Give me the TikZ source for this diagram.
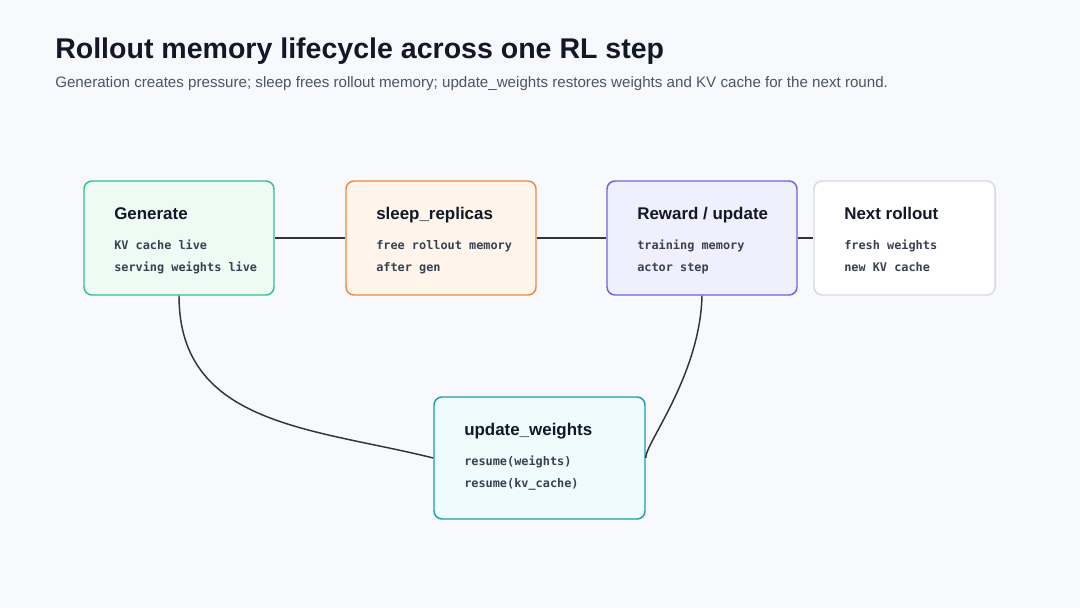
\documentclass[tikz,border=0pt]{standalone}
\usepackage{fontspec}
\setmainfont{Liberation Sans}
\newfontfamily\monofont{DejaVu Sans Mono}
\usetikzlibrary{calc}
\definecolor{bgc}{HTML}{F8F9FC}
\definecolor{titlec}{HTML}{111827}
\definecolor{subc}{HTML}{4B5563}
\definecolor{monoc}{HTML}{374151}
\definecolor{linec}{HTML}{333333}
\definecolor{genD}{HTML}{34C08E}\definecolor{genF}{HTML}{EEFBF5}
\definecolor{slpD}{HTML}{EE8A3E}\definecolor{slpF}{HTML}{FFF5EA}
\definecolor{rewD}{HTML}{6B63E6}\definecolor{rewF}{HTML}{F0F0FD}
\definecolor{nxtD}{HTML}{D9DADF}\definecolor{nxtF}{HTML}{FFFFFF}
\definecolor{updD}{HTML}{1F9AB6}\definecolor{updF}{HTML}{EEFCFD}
\tikzset{
  card/.style n args={4}{draw=#1, fill=#2, line width=1.1pt, rounded corners=6pt,
     minimum width=#3*0.75pt, minimum height=#4*0.75pt, inner sep=0pt},
  cardtitle/.style={anchor=base west, inner sep=0pt, font=\fontsize{12.7}{15}\selectfont\bfseries, text=titlec},
  cardline/.style={anchor=base west, inner sep=0pt, font=\monofont\fontsize{8.9}{11}\selectfont\bfseries, text=monoc},
  link/.style={draw=linec, line width=1.1pt},
}
\begin{document}
\begin{tikzpicture}[x=0.75pt,y=-0.75pt]
\fill[bgc] (0,0) rectangle (1080,608);
\useasboundingbox (0,0) rectangle (1080,608);
\node[anchor=base west, inner sep=0pt, font=\fontsize{21.4}{24}\selectfont\bfseries, text=titlec] (title) at (55,58) {Rollout memory lifecycle across one RL step};
\node[anchor=base west, inner sep=0pt, font=\fontsize{11.35}{13}\selectfont, text=subc] (sub) at (55,87) {Generation creates pressure; sleep frees rollout memory; update\_weights restores weights and KV cache for the next round.};

\node[card={genD}{genF}{190}{114}] (gen) at (179,238) {};
\node[card={slpD}{slpF}{190}{114}] (slp) at (441,238) {};
\node[card={rewD}{rewF}{190}{114}] (rew) at (702,238) {};
\node[card={nxtD}{nxtF}{181}{114}] (nxt) at (904.5,238) {};
\node[card={updD}{updF}{211}{122}] (upd) at (539.5,458) {};

\node[cardtitle] (genT) at (114,219) {Generate};
\node[cardline] (genA) at (114,249) {KV cache live};
\node[cardline] (genB) at (114,271) {serving weights live};

\node[cardtitle] (slpT) at (376,219) {sleep\_replicas};
\node[cardline] (slpA) at (376,249) {free rollout memory};
\node[cardline] (slpB) at (376,271) {after gen};

\node[cardtitle] (rewT) at (637,219) {Reward / update};
\node[cardline] (rewA) at (637,249) {training memory};
\node[cardline] (rewB) at (637,271) {actor step};

\node[cardtitle] (nxtT) at (844,219) {Next rollout};
\node[cardline] (nxtA) at (844,249) {fresh weights};
\node[cardline] (nxtB) at (844,271) {new KV cache};

\node[cardtitle] (updT) at (464,435) {update\_weights};
\node[cardline] (updA) at (464,465) {resume(weights)};
\node[cardline] (updB) at (464,487) {resume(kv\_cache)};

\draw[link] (gen.east) -- (slp.west);
\draw[link] (slp.east) -- (rew.west);
\draw[link] (rew.east) -- (nxt.west);
\draw[link] (gen.south) .. controls +(0,130) and +(-120,-30) .. (upd.west);
\draw[link] (rew.south) .. controls +(-2,80) and +(-1,-14) .. (upd.east);
\end{tikzpicture}
\end{document}
